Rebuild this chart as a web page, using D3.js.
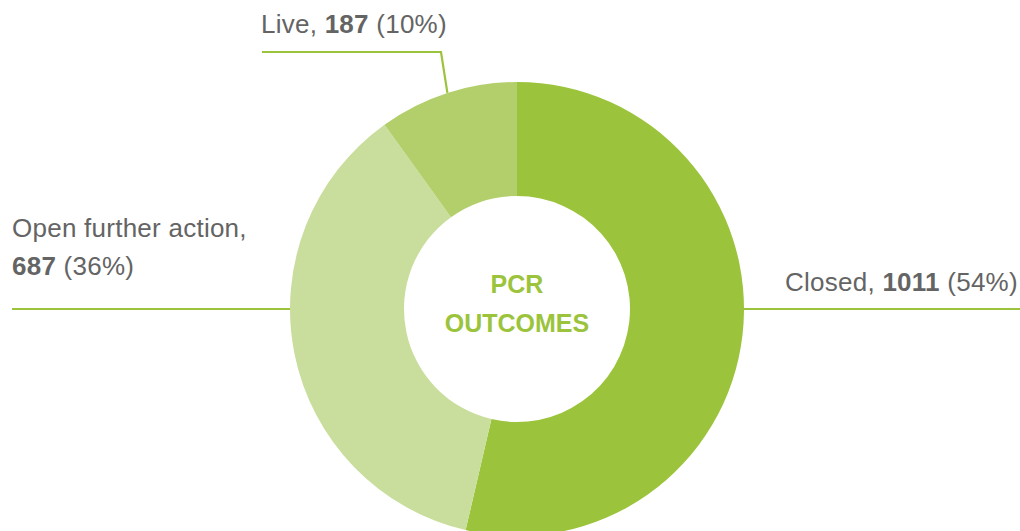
<!DOCTYPE html>
<html><head><meta charset="utf-8">
<script src="https://cdn.jsdelivr.net/npm/d3@7"></script>
<style>html,body{margin:0;padding:0;background:#fff;}svg{display:block;}</style>
</head><body>
<svg id="c" width="1020" height="531"></svg>
<script>
const categories = ["Closed", "Open further action", "Live"];
const values = [1011, 687, 187];
const percents = ["54%", "36%", "10%"];
const colors = ["#9bc43c", "#c9de9c", "#b2cf6b"];
const centerTitle = ["PCR", "OUTCOMES"];

const W = 1020, H = 531;
const cx = 517, cy = 309, rOuter = 227, rInner = 113;
const lineColor = "#9bc43c", textColor = "#646464", font = "'Liberation Sans', Arial, sans-serif";

const svg = d3.select("#c");
const g = svg.append("g").attr("transform", `translate(${cx},${cy})`);
const pie = d3.pie().sort(null).value(d => d)(values);
const arc = d3.arc().innerRadius(rInner).outerRadius(rOuter);

g.selectAll("path.slice").data(pie).join("path")
  .attr("class", "slice").attr("d", arc).attr("fill", (d, i) => colors[i]);

const pt = (a, r) => [cx + r * Math.sin(a), cy - r * Math.cos(a)];
const line = d3.line();
const cR = pt(Math.PI / 2, rOuter);
svg.append("path").attr("d", line([cR, [W, cR[1]]])).attr("stroke", lineColor).attr("stroke-width", 2.2).attr("fill", "none");
const oL = pt(3 * Math.PI / 2, rOuter);
svg.append("path").attr("d", line([oL, [12, oL[1]]])).attr("stroke", lineColor).attr("stroke-width", 2.2).attr("fill", "none");
const liveMid = (pie[2].startAngle + pie[2].endAngle) / 2;
const lP = pt(liveMid, rOuter);
svg.append("path").attr("d", line([lP, [441, 52], [262, 52]])).attr("stroke", lineColor).attr("stroke-width", 2.2).attr("fill", "none");

function label(x, y, parts) {
  const t = svg.append("text").attr("x", x).attr("y", y)
    .attr("font-family", font).attr("font-size", 26).attr("letter-spacing", 0.25).attr("fill", textColor);
  parts.forEach(p => t.append("tspan").attr("font-weight", p.b ? "bold" : "normal").text(p.t));
  return t;
}
label(261, 33, [{t: categories[2] + ", "}, {t: values[2], b: true}, {t: " (" + percents[2] + ")"}]);
label(12, 237, [{t: categories[1] + ","}]);
label(12, 275, [{t: values[1], b: true}, {t: " (" + percents[1] + ")"}]);
label(785, 291, [{t: categories[0] + ", "}, {t: values[0], b: true}, {t: " (" + percents[0] + ")"}]);

svg.selectAll("text.ctr").data(centerTitle).join("text").attr("class", "ctr")
  .attr("x", cx).attr("y", (d, i) => 293 + i * 38.5)
  .attr("text-anchor", "middle").attr("font-family", font).attr("font-weight", "bold")
  .attr("font-size", 25).attr("fill", "#9bc43c").text(d => d);
</script>
</body></html>
